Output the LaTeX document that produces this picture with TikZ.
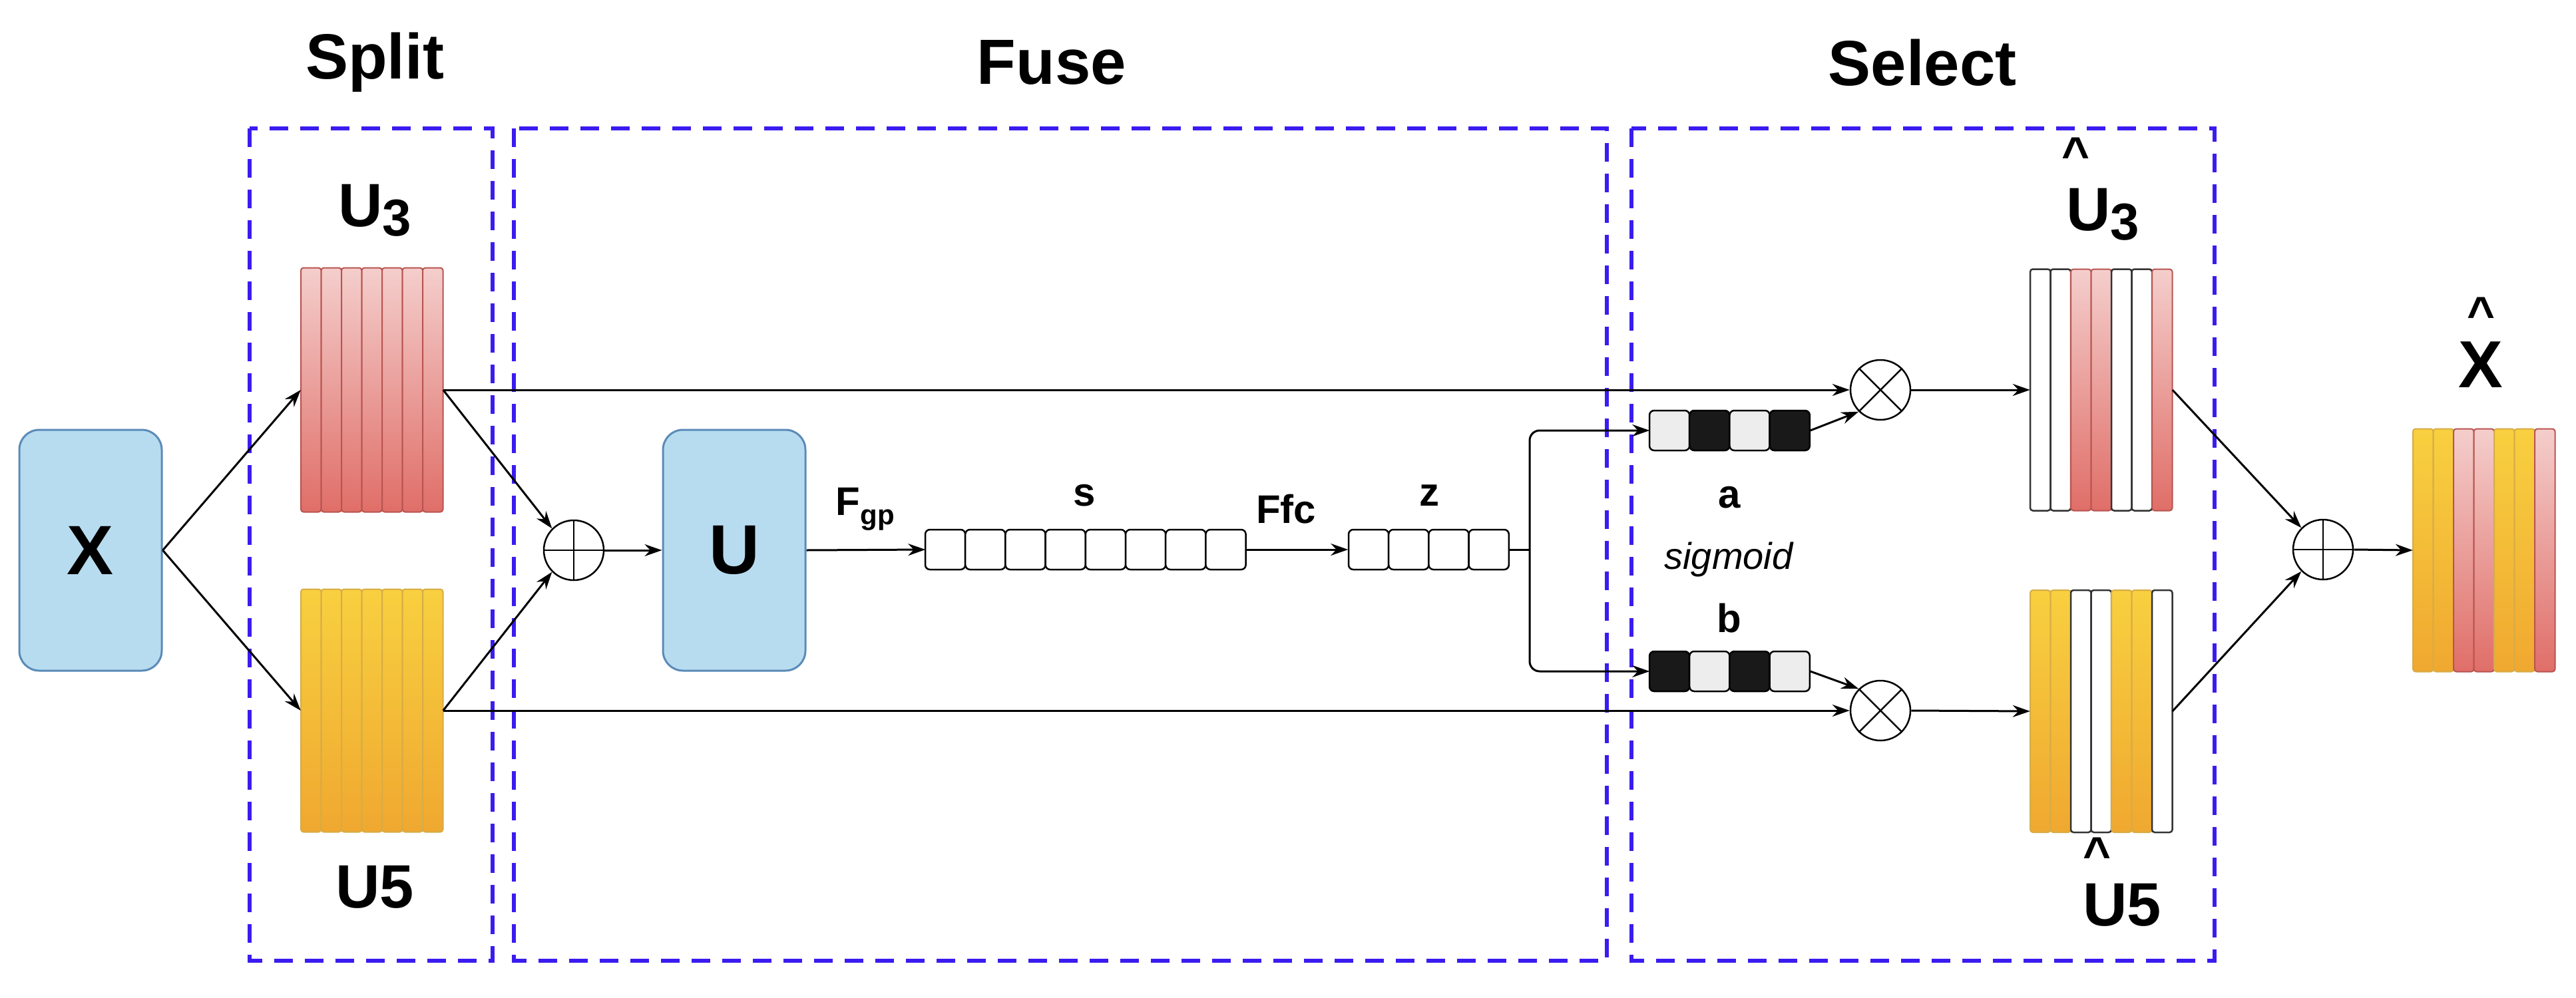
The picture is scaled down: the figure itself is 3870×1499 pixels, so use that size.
\documentclass[tikz,border=0pt]{standalone}
\usepackage{fontspec}
\setmainfont{Liberation Sans}
\usetikzlibrary{arrows.meta}
\definecolor{boxblue}{HTML}{3A1CF0}
\definecolor{nfill}{HTML}{B8DCEF}
\definecolor{ndraw}{HTML}{5A8BB8}
\newcommand\mysub[1]{\raisebox{-14pt}{\fontsize{78}{78}\selectfont #1}}
\tikzset{
  fz/.style={font=\fontsize{#1}{#1}\selectfont\bfseries},
  grp/.style={draw=boxblue,line width=6pt,dash pattern=on 28pt off 18pt},
  blk/.style={draw=ndraw,line width=3pt,fill=nfill,rounded corners=30pt,minimum width=214pt,minimum height=362pt,inner sep=0pt},
  arr/.style={line width=3pt,-{Stealth[length=26pt,width=18pt]}},
  ln/.style={line width=3pt},
  op/.style={circle,draw,line width=2.5pt,minimum size=90pt,inner sep=0pt},
  rs/.style={draw={rgb,255:red,184;green,84;blue,80},line width=2pt,rounded corners=4pt,top color={rgb,255:red,244;green,206;blue,204},bottom color={rgb,255:red,224;green,110;blue,104}},
  ys/.style={draw={rgb,255:red,214;green,172;blue,70},line width=2pt,rounded corners=4pt,top color={rgb,255:red,248;green,208;blue,64},bottom color={rgb,255:red,240;green,168;blue,48}},
  ws/.style={draw=black!80,line width=2.5pt,rounded corners=4pt,fill=white},
  cw/.style={draw=black,line width=2.5pt,rounded corners=7pt,fill=white},
  cl/.style={draw=black,line width=2.5pt,rounded corners=7pt,fill=black!7},
  cd/.style={draw=black,line width=2.5pt,rounded corners=7pt,fill=black!90},
  ghost/.style={inner sep=0pt,minimum width=#1,minimum height=61pt}
}
% #1 name, #2 left x, #3 center y, #4 height, #5 list of styles
\newcommand\mystripes[5]{%
  \node[inner sep=0pt,minimum width=213.5pt,minimum height=#4] (#1) at (#2+106.75,#3) {};
  \foreach \s [count=\i from 0] in {#5}{\path[\s] (#2+\i*30.5,#3-#4/2) rectangle ++(30.5,#4);}
}
% #1 name, #2 left x, #3 center y, #4 list
\newcommand\mycells[4]{%
  \foreach \s [count=\i from 0] in {#4}{\path[\s] (#2+\i*60.2,#3-30) rectangle ++(60.2,60);}
}
\begin{document}
\begin{tikzpicture}[x=1pt,y=-1pt]
\path[use as bounding box] (0,0) rectangle (3870,1499);
% groups
\draw[grp] (375,193) rectangle (740,1444);
\draw[grp] (772,193) rectangle (2414,1444);
\draw[grp] (2451,193) rectangle (3327,1444);
\node[fz=96] (tsplit) at (563,94) {Split};
\node[fz=96] (tfuse) at (1580,94) {Fuse};
\node[fz=96] (tsel) at (2888,94) {Select};
% X and U
\node[blk,fz=105] (X) at (136,827) {X};
\node[blk,fz=105] (U) at (1103,827) {U};
% split blocks
\mystripes{u3}{452}{586}{367}{rs,rs,rs,rs,rs,rs,rs}
\mystripes{u5}{452}{1068}{365}{ys,ys,ys,ys,ys,ys,ys}
\node[fz=92] (lu3) at (563,316) {U\mysub{3}};
\node[fz=92] (lu5) at (563,1333) {U5};
% oplus 1
\node[op] (p1) at (862,827) {};
\draw[line width=2.5pt] (p1.north)--(p1.south) (p1.west)--(p1.east);
\draw[arr] (X.east) -- (u3.west);
\draw[arr] (X.east) -- (u5.west);
\draw[arr] (u3.east) -- (p1.north west);
\draw[arr] (u5.east) -- (p1.south west);
\draw[arr] (p1.east) -- (U.west);
% s vector
\node[ghost=481pt] (s) at (1631,826) {};
\mycells{s}{1390}{826}{cw,cw,cw,cw,cw,cw,cw,cw}
\node[fz=60] (ls) at (1629,745) {s};
\node[fz=60] (lfgp) at (1300,765) {F\textsubscript{gp}};
\draw[arr] (U.east) -- (s.west);
% z vector
\node[ghost=241pt] (z) at (2146,826) {};
\mycells{z}{2026}{826}{cw,cw,cw,cw}
\node[fz=60] (lz) at (2147,745) {z};
\node[fz=60] (lffc) at (1932,765) {Ffc};
\draw[arr] (s.east) -- (z.west);
% a and b
\node[ghost=241pt] (a) at (2599,647) {};
\mycells{a}{2478}{647}{cl,cd,cl,cd}
\node[ghost=241pt] (b) at (2599,1009) {};
\mycells{b}{2478}{1009}{cd,cl,cd,cl}
\node[fz=60] (la) at (2598,748) {a};
\node[fz=60] (lb) at (2598,929) {b};
\node[font=\fontsize{56}{56}\selectfont\itshape] (lsig) at (2597,841) {sigmoid};
\coordinate (br) at (2298,826);
\draw[ln,rounded corners=15pt] (z.east) -- (br);
\draw[arr,rounded corners=15pt] (br) |- (a.west);
\draw[arr,rounded corners=15pt] (br) |- (b.west);
% otimes
\node[op] (t1) at (2825,586) {};
\draw[line width=2.5pt] (t1.north west)--(t1.south east) (t1.north east)--(t1.south west);
\node[op] (t2) at (2825,1068) {};
\draw[line width=2.5pt] (t2.north west)--(t2.south east) (t2.north east)--(t2.south west);
\draw[arr] (u3.east) -- (t1.west);
\draw[arr] (u5.east) -- (t2.west);
\draw[arr] (a.east) -- (t1.south west);
\draw[arr] (b.east) -- (t2.north west);
% selected blocks
\mystripes{h3}{3050}{586}{363}{ws,ws,rs,rs,ws,ws,rs}
\mystripes{h5}{3050}{1069}{364}{ys,ys,ws,ws,ys,ys,ws}
\draw[arr] (t1.east) -- (h3.west);
\draw[arr] (t2.east) -- (h5.west);
\node[fz=92] (lh3) at (3159,322) {U\mysub{3}};
\node[fz=72] (hh3) at (3118,232) {\textasciicircum};
\node[fz=92] (lh5) at (3188,1360) {U5};
\node[fz=72] (hh5) at (3150,1284) {\textasciicircum};
% oplus 2
\node[op] (p2) at (3490,826) {};
\draw[line width=2.5pt] (p2.north)--(p2.south) (p2.west)--(p2.east);
\draw[arr] (h3.east) -- (p2.north west);
\draw[arr] (h5.east) -- (p2.south west);
\mystripes{xh}{3625}{827}{365}{ys,ys,rs,rs,ys,ys,rs}
\draw[arr] (p2.east) -- (xh.west);
\node[fz=100] (lxh) at (3727,548) {X};
\node[fz=72] (hxh) at (3727,472) {\textasciicircum};
\end{tikzpicture}
\end{document}
